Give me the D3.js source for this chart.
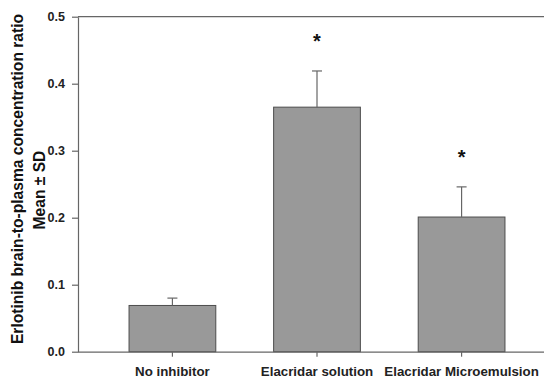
<!DOCTYPE html>
<html><head><meta charset="utf-8">
<script src="https://cdn.jsdelivr.net/npm/d3@7"></script>
<style>body{margin:0;background:#fff}svg{display:block}text{font-family:"Liberation Sans",Arial,sans-serif;font-weight:bold}</style>
</head><body><svg id="c" width="544" height="379"></svg>
<script>
const categories = ["No inhibitor", "Elacridar solution", "Elacridar Microemulsion"];
const means = [0.069, 0.365, 0.201];
const sds = [0.011, 0.054, 0.045];
const marks = ["", "*", "*"];
const yTicks = [0.0, 0.1, 0.2, 0.3, 0.4, 0.5];

const svg = d3.select("#c");
const x0 = 78, y0 = 351.7, yTop = 16.7;
const x = d3.scaleBand().domain(categories).range([x0, 556]).paddingInner(0.4).paddingOuter(0.353);
const y = d3.scaleLinear().domain([0, 0.5]).range([y0, yTop]);

const axisColor = "#666";
// top line
svg.append("line").attr("x1", x0).attr("x2", 544).attr("y1", y(0.5)).attr("y2", y(0.5)).attr("stroke", axisColor).attr("stroke-width", 1.2);

// bars
svg.selectAll("rect.bar").data(categories).join("rect")
  .attr("x", d => x(d)).attr("width", x.bandwidth())
  .attr("y", (d, i) => y(means[i])).attr("height", (d, i) => y(0) - y(means[i]))
  .attr("fill", "#999999").attr("stroke", "#4d4d4d").attr("stroke-width", 1);

// error bars
const cx = d => x(d) + x.bandwidth() / 2;
svg.selectAll("line.err").data(categories).join("line")
  .attr("x1", cx).attr("x2", cx)
  .attr("y1", (d, i) => y(means[i])).attr("y2", (d, i) => y(means[i] + sds[i]))
  .attr("stroke", "#666").attr("stroke-width", 1.2);
svg.selectAll("line.cap").data(categories).join("line")
  .attr("x1", d => cx(d) - 5).attr("x2", d => cx(d) + 5)
  .attr("y1", (d, i) => y(means[i] + sds[i])).attr("y2", (d, i) => y(means[i] + sds[i]))
  .attr("stroke", "#666").attr("stroke-width", 1.2);

// significance stars
svg.selectAll("text.star").data(categories).join("text")
  .attr("x", cx).attr("y", (d, i) => y(means[i] + sds[i]) - 23)
  .attr("text-anchor", "middle").attr("font-size", 20).attr("fill", "#111")
  .text((d, i) => marks[i]);

// y axis
const yAxis = svg.append("g").attr("transform", `translate(${x0},0)`)
  .call(d3.axisLeft(y).tickValues(yTicks).tickFormat(d3.format(".1f")).tickSize(6).tickSizeOuter(0));
yAxis.select(".domain").attr("stroke", axisColor).attr("stroke-width", 1.2);
yAxis.selectAll(".tick line").attr("stroke", axisColor).attr("stroke-width", 1.2);
yAxis.selectAll(".tick text").attr("font-size", 12.5).attr("font-family", "Liberation Sans, Arial, sans-serif").attr("font-weight", "bold").attr("fill", "#222").attr("x", -13);

// x axis
const xAxis = svg.append("g").attr("transform", `translate(0,${y0})`)
  .call(d3.axisBottom(x).tickSize(5).tickSizeOuter(0));
xAxis.select(".domain").attr("stroke", axisColor).attr("stroke-width", 1.2).attr("d", `M${x0},0.5H544`);
xAxis.selectAll(".tick line").attr("stroke", axisColor).attr("stroke-width", 1.2);
xAxis.selectAll(".tick text").attr("font-size", 13.3).attr("font-family", "Liberation Sans, Arial, sans-serif").attr("font-weight", "bold").attr("fill", "#222").attr("dy", 0).attr("y", 24.3);

// y title
const tg = svg.append("g").attr("transform", `translate(0,179) rotate(-90)`);
tg.append("text").attr("x", 0).attr("y", 23).attr("text-anchor", "middle").attr("font-size", 15.6).attr("fill", "#111").text("Erlotinib brain-to-plasma concentration ratio");
tg.append("text").attr("x", -11).attr("y", 45).attr("text-anchor", "middle").attr("font-size", 15.6).attr("fill", "#111").text("Mean ± SD");
</script></body></html>
